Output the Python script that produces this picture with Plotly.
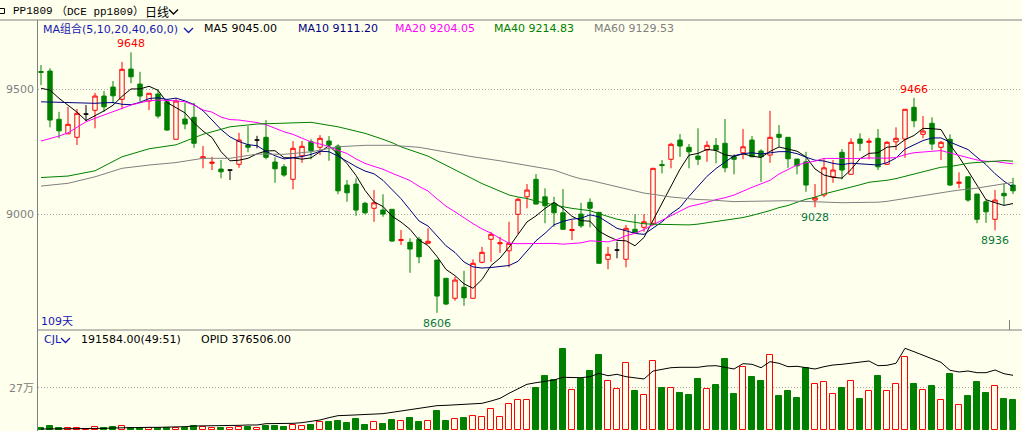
import plotly.graph_objects as go

# ---------------- data ----------------
opens = [9571, 9573, 9380, 9322, 9308, 9401, 9416, 9473, 9509, 9460,
         9581, 9521, 9453, 9481, 9450, 9300, 9381, 9388, 9225, 9204,
         9181, 9177, 9200, 9277, 9297, 9308, 9209, 9190, 9140, 9234,
         9290, 9268, 9293, 9273, 9117, 9121, 9044, 9024, 9017, 9020,
         8895, 8888, 8900, 8884, 8817, 8744, 8664, 8708, 8664, 8808,
         8900, 8882, 8854, 9000, 9070, 9140, 9070, 9044, 9006, 8935,
         9001, 9048, 9008, 8820, 8857, 8820, 8940, 8948, 8964, 9199,
         9220, 9297, 9268, 9233, 9257, 9276, 9284, 9230, 9246, 9297,
         9253, 9237, 9320, 9308, 9221, 9210, 9057, 9077, 9150, 9248,
         9160, 9301, 9288, 9304, 9200, 9290, 9301, 9428, 9320, 9364,
         9268, 9300, 9124, 9150, 9081, 9050, 8980, 9084, 9117]
highs = [9597, 9584, 9410, 9430, 9421, 9437, 9486, 9493, 9533, 9610,
         9648, 9570, 9484, 9500, 9460, 9464, 9446, 9446, 9273, 9230,
         9217, 9177, 9326, 9353, 9314, 9377, 9228, 9201, 9293, 9293,
         9300, 9317, 9313, 9280, 9137, 9144, 9050, 9097, 9080, 9020,
         8937, 8904, 8910, 8944, 8817, 8744, 8750, 8774, 8820, 8870,
         8930, 8910, 8970, 9066, 9121, 9161, 9104, 9070, 9101, 8977,
         9046, 9064, 9008, 8870, 8890, 8957, 9000, 9001, 9184, 9217,
         9286, 9321, 9281, 9344, 9293, 9305, 9381, 9240, 9341, 9313,
         9260, 9414, 9357, 9308, 9221, 9250, 9121, 9221, 9217, 9261,
         9304, 9324, 9304, 9341, 9293, 9348, 9420, 9466, 9393, 9388,
         9293, 9320, 9168, 9150, 9081, 9060, 9097, 9124, 9146]
lows = [9517, 9348, 9304, 9322, 9277, 9373, 9344, 9410, 9444, 9420,
        9524, 9450, 9417, 9384, 9334, 9300, 9340, 9266, 9184, 9177,
        9144, 9137, 9186, 9248, 9264, 9220, 9126, 9150, 9100, 9206,
        9220, 9237, 9214, 9080, 9050, 8994, 9000, 8970, 8990, 8890,
        8877, 8766, 8804, 8884, 8606, 8637, 8654, 8634, 8664, 8804,
        8810, 8846, 8788, 8921, 9024, 9040, 8964, 8950, 8937, 8897,
        8946, 8948, 8804, 8780, 8824, 8788, 8926, 8930, 8955, 9164,
        9184, 9230, 9184, 9197, 9210, 9204, 9168, 9160, 9220, 9230,
        9130, 9206, 9270, 9186, 9160, 9090, 9028, 9068, 9126, 9140,
        9160, 9253, 9220, 9177, 9197, 9257, 9226, 9348, 9304, 9257,
        9217, 9114, 9104, 9050, 8964, 8966, 8936, 9037, 9081]
closes = [9568, 9377, 9334, 9360, 9404, 9401, 9473, 9430, 9474, 9580,
          9550, 9473, 9484, 9393, 9337, 9453, 9361, 9284, 9230, 9208,
          9170, 9177, 9297, 9268, 9297, 9228, 9182, 9157, 9264, 9272,
          9254, 9304, 9277, 9094, 9086, 9017, 9006, 9046, 9001, 8893,
          8899, 8861, 8830, 8892, 8673, 8641, 8737, 8666, 8804, 8848,
          8920, 8886, 8884, 9060, 9097, 9041, 9034, 9006, 8940, 8939,
          8954, 9024, 8804, 8840, 8857, 8944, 8926, 8970, 9184, 9195,
          9280, 9273, 9250, 9220, 9276, 9257, 9186, 9220, 9270, 9230,
          9230, 9308, 9308, 9222, 9194, 9117, 9066, 9186, 9177, 9177,
          9288, 9284, 9292, 9190, 9288, 9304, 9420, 9374, 9333, 9281,
          9288, 9117, 9128, 9057, 8980, 9010, 9057, 9074, 9094]

# volume (CJL) and open interest (OPID)
volume = [7600, 22700, 9700, 7600, 7600, 5400, 16200, 7600, 16200, 22700,
          11900, 11900, 9700, 9700, 9700, 9700, 9700, 20600, 16200, 9700,
          9700, 9700, 16200, 16200, 7600, 22700, 22700, 16200, 29200, 22700,
          29200, 46500, 48700, 57400, 42200, 68200, 29200, 46500, 35700, 61700,
          53000, 74700, 48700, 53000, 120100, 55200, 66000, 74700, 87700, 81200,
          131000, 79000, 163400, 189400, 189400, 271700, 347400, 321500, 522800, 254300,
          330100, 379900, 483800, 312800, 263000, 429700, 250000, 224000, 444800, 271700,
          269500, 237000, 224000, 327900, 263000, 289000, 457800, 230500, 403700, 340900,
          315000, 481700, 217500, 250000, 204600, 401500, 293300, 306300, 228400, 269500,
          312800, 198100, 247900, 347400, 247900, 293300, 468700, 295500, 254300, 282500,
          189400, 360400, 157000, 217500, 308500, 237000, 280300, 198100, 191584]
opid = [3500, 3500, 3500, 3500, 5800, 8100, 8100, 8100, 10400, 12700,
        15100, 15100, 15100, 15100, 15100, 17400, 19700, 24300, 24300, 24300,
        26600, 26600, 29000, 31300, 31300, 40500, 40500, 40500, 42800, 47500,
        54400, 66000, 82200, 96100, 98400, 100700, 103000, 107700, 110000, 119300,
        128500, 140100, 147000, 154000, 165600, 167900, 170200, 174800, 177100, 181800,
        198000, 216500, 251500, 281400, 314000, 325100, 332100, 343900, 362600, 362600,
        359900, 366800, 390400, 373700, 383500, 366800, 359900, 350800, 406400, 418200,
        429300, 432100, 432100, 432100, 441100, 443200, 432100, 420300, 457100, 452900,
        429300, 471000, 459900, 436300, 439000, 429300, 420300, 436300, 448100, 452900,
        459900, 466800, 475900, 443200, 446000, 459900, 564100, 540500, 517600, 494600,
        466800, 411300, 399500, 406400, 394600, 394600, 413300, 387600, 376506]

# moving-average values before each window is full
ma5_head = [9504, 9497, 9464, 9437]
ma10_head = [9450, 9450, 9448, 9447, 9446, 9444, 9444, 9446, 9447]
ma20_head = [9293, 9302, 9313, 9326, 9348, 9370, 9384, 9397, 9410, 9424,
             9437, 9446, 9454, 9457, 9456, 9454, 9450, 9437, 9417]
ma40_head_idx = [0, 3, 6, 9, 12, 15, 18, 21, 24, 27, 30, 33, 36, 38]
ma40_head = [9147, 9153, 9174, 9230, 9262, 9278, 9320, 9350, 9361, 9364,
             9368, 9350, 9324, 9300]
ma60_head_idx = [0, 3, 6, 9, 12, 15, 18, 21, 24, 27, 30, 33, 36, 39, 42,
                 45, 48, 51, 54, 57]
ma60_head = [9113, 9124, 9150, 9184, 9197, 9207, 9224, 9224, 9241, 9240,
             9250, 9270, 9276, 9276, 9268, 9248, 9230, 9214, 9194, 9177]

price_ticks = [9000, 9500]
vol_ticks = [270000]
vol_tick_text = ["27万"]
peak_marks = [10, 97]       # candles whose high is labelled
trough_marks = [44, 86, 106]  # candles whose low is labelled

header_ma = [("MA5", "9045.00"), ("MA10", "9111.20"), ("MA20", "9204.05"),
             ("MA40", "9214.83"), ("MA60", "9129.53")]

# ---------------- styling ----------------
BG = "#FFFFEE"
RED = "#FF0000"
GREEN = "#008000"
NAVY = "#000080"
MAG = "#FF00FF"
GRAY = "#808080"
FONT = "DejaVu Sans, Noto Sans CJK SC, sans-serif"
W, H = 1022, 431
L, T = 38, 20
PW, PH = W - L, H - T


def px(x):
    return (x - L) / PW


def py(y):
    return (H - y) / PH


n = len(closes)
idx = list(range(n))

fig = go.Figure()


def cs(sel, color, fill):
    return go.Candlestick(
        x=[idx[i] for i in sel], open=[opens[i] for i in sel],
        high=[highs[i] for i in sel], low=[lows[i] for i in sel],
        close=[closes[i] for i in sel], xaxis="x", yaxis="y",
        increasing=dict(line=dict(color=color, width=1), fillcolor=fill),
        decreasing=dict(line=dict(color=color, width=1), fillcolor=fill),
        whiskerwidth=0, hoverinfo="skip", showlegend=False)


up = [i for i in idx if closes[i] > opens[i]]
dn = [i for i in idx if closes[i] < opens[i]]
dj = [i for i in idx if closes[i] == opens[i]]
fig.add_trace(cs(up, RED, BG))
fig.add_trace(cs(dn, GREEN, GREEN))
fig.add_trace(cs(dj, "#000000", "#000000"))


def rolling(vals, w):
    return [sum(vals[i - w + 1:i + 1]) / w for i in range(w - 1, len(vals))]


ma_specs = [
    (list(range(4)), ma5_head, 5, "#000000"),
    (list(range(9)), ma10_head, 10, NAVY),
    (list(range(19)), ma20_head, 20, MAG),
    (ma40_head_idx, ma40_head, 40, GREEN),
    (ma60_head_idx, ma60_head, 60, GRAY),
]
for hidx, hv, w, col in ma_specs:
    xs = hidx + list(range(w - 1, n))
    ys = hv + rolling(closes, w)
    fig.add_trace(go.Scatter(x=xs, y=ys, mode="lines", xaxis="x", yaxis="y",
                             line=dict(color=col, width=1), hoverinfo="skip",
                             showlegend=False))

# volume bars
vfill = [GREEN if closes[i] < opens[i] else BG for i in idx]
vline = [GREEN if closes[i] < opens[i] else RED for i in idx]
fig.add_trace(go.Bar(x=idx, y=volume, xaxis="x2", yaxis="y2", width=0.6,
                     marker=dict(color=vfill, line=dict(color=vline, width=1)),
                     hoverinfo="skip", showlegend=False))
fig.add_trace(go.Scatter(x=idx, y=opid, mode="lines", xaxis="x2", yaxis="y3",
                         line=dict(color="#000000", width=1), hoverinfo="skip",
                         showlegend=False))

# ---------------- axes ----------------
xr = [(L - 41) / 9.0, (W - 41) / 9.0]
p_top = 9500 - (T - 89.3) * 4
p_bot = 9500 - (330 - 89.3) * 4
v_per_px = 6494.0
o_per_px = 6947.0
base = 429.5

fig.update_layout(
    width=W, height=H, margin=dict(l=L, r=0, t=T, b=0, pad=0),
    paper_bgcolor=BG, plot_bgcolor=BG, showlegend=False,
    xaxis=dict(domain=[0, 1], range=xr, visible=False, anchor="y",
               rangeslider=dict(visible=False), fixedrange=True),
    yaxis=dict(domain=[py(330), 1], range=[p_bot, p_top], anchor="x",
               tickvals=price_ticks, ticks="", showgrid=True,
               gridcolor="#A8A8A8", griddash="1px,2px", gridwidth=1,
               zeroline=False, showline=False,
               tickfont=dict(family=FONT, size=11, color=GRAY),
               ticklabelstandoff=3),
    xaxis2=dict(domain=[0, 1], range=xr, visible=False, anchor="y2",
                rangeslider=dict(visible=False)),
    yaxis2=dict(domain=[0, py(331)],
                range=[-(H - base) * v_per_px, (base - 331) * v_per_px],
                anchor="x2", tickvals=vol_ticks, ticktext=vol_tick_text,
                ticks="", showgrid=True, gridcolor="#A8A8A8",
                griddash="1px,2px", gridwidth=1, zeroline=False,
                tickfont=dict(family=FONT, size=11, color=GRAY),
                ticklabelstandoff=3),
    yaxis3=dict(overlaying="y2", anchor="x2",
                range=[-(H - base) * o_per_px, (base - 331) * o_per_px],
                visible=False),
    bargap=0,
)

# ---------------- frame lines ----------------
shapes = [
    dict(type="line", xref="paper", yref="paper", x0=px(0), x1=px(W),
         y0=py(20), y1=py(20), line=dict(color=GRAY, width=1)),
    dict(type="line", xref="paper", yref="paper", x0=px(38), x1=px(W),
         y0=py(330), y1=py(330), line=dict(color=GRAY, width=1)),
    dict(type="line", xref="paper", yref="paper", x0=px(37.5), x1=px(37.5),
         y0=py(20), y1=py(H), line=dict(color=GRAY, width=1)),
    dict(type="line", xref="paper", yref="paper", x0=px(1009.5), x1=px(1009.5),
         y0=py(320), y1=py(330), line=dict(color=GRAY, width=1)),
    dict(type="line", xref="paper", yref="paper", x0=px(1009.5), x1=px(1009.5),
         y0=py(420), y1=py(429), line=dict(color=GRAY, width=1)),
    dict(type="rect", xref="paper", yref="paper", x0=px(-3), x1=px(4.5),
         y0=py(13.5), y1=py(8.5), line=dict(color="#000000", width=1)),
]


def chevron(x0, ymid, color):
    return dict(type="path", xref="paper", yref="paper",
                path=(f"M {px(x0)},{py(ymid - 2)} L {px(x0 + 4.5)},{py(ymid + 2.5)} "
                      f"L {px(x0 + 9)},{py(ymid - 2)}"),
                line=dict(color=color, width=1.3))


shapes += [chevron(169, 11.5, "#000000"), chevron(184, 30, "#1818B0"),
           chevron(61, 340, "#1818B0")]
fig.update_layout(shapes=shapes)

# ---------------- texts ----------------
ann = []


def txt(x, y, s, color, size=11, family=FONT, anchor="left"):
    ann.append(dict(xref="paper", yref="paper", x=px(x), y=py(y), text=s,
                    showarrow=False, xanchor=anchor, yanchor="middle",
                    font=dict(family=family, size=size, color=color)))


TFONT = "Liberation Mono, Noto Sans CJK SC, monospace"
txt(11, 11.5, "PP1809", "#000000", 11, TFONT)
txt(54, 11.5, "（DCE pp1809）", "#000000", 11, TFONT)
txt(143, 11.5, "日线", "#000000", 12, "Noto Sans CJK SC")

txt(41, 28.5, "MA组合(5,10,20,40,60,0)", "#1818B0")
ma_cols = ["#000000", NAVY, MAG, GREEN, GRAY]
ma_x = [202, 296, 393, 492, 592]
for (name, val), col, x in zip(header_ma, ma_cols, ma_x):
    txt(x, 28.5, f"{name} {val}", col)

txt(39, 321, "109天", "#1818B0")
txt(42, 339.5, "CJL", "#1818B0")
txt(79, 339.5, f"{volume[-1]:.2f}(49:51)", "#000000")
txt(199, 339.5, f"OPID {opid[-1]:.2f}", "#000000")

for i in peak_marks:
    ann.append(dict(xref="x", yref="y", x=i, y=highs[i], text=str(highs[i]),
                    showarrow=False, xanchor="center", yanchor="bottom",
                    yshift=0, font=dict(family=FONT, size=11, color=RED)))
for i in trough_marks:
    ann.append(dict(xref="x", yref="y", x=i, y=lows[i], text=str(lows[i]),
                    showarrow=False, xanchor="center", yanchor="top",
                    yshift=-2, font=dict(family=FONT, size=11, color="#0A7A3A")))

fig.update_layout(annotations=ann)
fig.write_html("out.html")
